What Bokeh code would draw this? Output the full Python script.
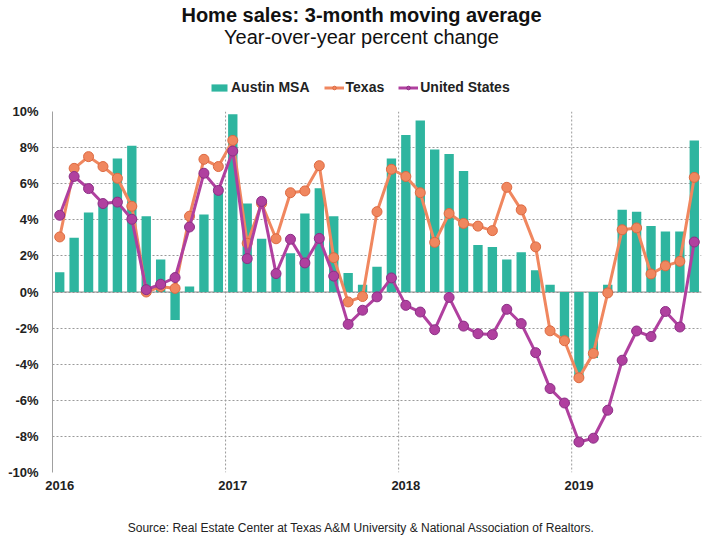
from bokeh.plotting import figure
from bokeh.layouts import column
from bokeh.models import (Legend, LegendItem, Label, Span, FixedTicker, Range1d,
                          ColumnDataSource)
from bokeh.embed import file_html
from bokeh.resources import INLINE

# ---- data (YoY % change, 3-month moving average, Jan 2016 .. Sep 2019) ----
year_labels = ["2016", "2017", "2018", "2019"]
year_start_index = [0, 12, 24, 36]

austin = [1.1, 3.0, 4.4, 4.95, 7.4, 8.1, 4.2, 1.8, -1.55, 0.3, 4.3, 5.85,
          9.85, 4.9, 2.95, 1.05, 2.15, 4.35, 5.75, 4.2, 1.05, 0.4, 1.4, 7.4,
          8.7, 9.5, 7.9, 7.65, 6.7, 2.6, 2.5, 1.8, 2.2, 1.2, 0.4, -2.85,
          -4.8, -3.65, 0.4, 4.55, 4.45, 3.65, 3.35, 3.35, 8.4]
texas = [3.05, 6.85, 7.5, 6.95, 6.3, 4.75, 0.0, 0.3, 0.2, 4.2, 7.35, 6.95,
         8.4, 2.7, 4.9, 2.95, 5.5, 5.6, 7.0, 1.9, -0.55, -0.25, 4.45, 6.8,
         6.4, 5.5, 2.75, 4.35, 3.8, 3.65, 3.4, 5.8, 4.55, 2.5, -2.15, -2.7,
         -4.75, -3.4, -0.05, 3.45, 3.55, 1.0, 1.45, 1.7, 6.35]
us = [4.25, 6.4, 5.73, 4.9, 4.98, 4.03, 0.13, 0.43, 0.8, 3.6, 6.58, 5.63,
      7.81, 1.85, 5.02, 1.02, 2.92, 1.61, 2.97, 0.88, -1.79, -1.01, -0.27, 0.78,
      -0.74, -1.11, -2.09, -0.3, -1.89, -2.31, -2.36, -0.96, -1.75, -3.36, -5.35, -6.15,
      -8.31, -8.1, -6.55, -3.78, -2.16, -2.47, -1.08, -1.94, 2.77]
y_ticks = [-10, -8, -6, -4, -2, 0, 2, 4, 6, 8, 10]

title_text = "Home sales: 3-month moving average"
subtitle_text = "Year-over-year percent change"
source_text = "Source: Real Estate Center at Texas A&M University & National Association of Realtors."

idx = list(range(len(austin)))
src = ColumnDataSource(dict(x=idx, austin=austin, texas=texas, us=us))

FONT = "Liberation Sans"
TEAL = "#2eb59f"
ORANGE = "#f0875f"
ORANGE_EDGE = "#dd6a42"
PURPLE = "#b0409f"
PURPLE_EDGE = "#8c2f86"
W = 720
LEFT, FRAME_W, FRAME_H = 52, 649, 361


def bare(height):
    # in a column the plot frames are aligned with the main chart's frame,
    # so map data x directly onto page pixels across that frame
    f = figure(width=W, height=height, output_backend="svg", toolbar_location=None,
               x_range=Range1d(LEFT, LEFT + FRAME_W), y_range=Range1d(0, height),
               x_axis_type=None, y_axis_type=None, min_border=0,
               min_border_left=LEFT, min_border_right=W - LEFT - FRAME_W,
               min_border_top=0, min_border_bottom=0)
    f.outline_line_color = None
    f.grid.visible = False
    return f


def draw_series(f, **kw):
    bars = f.vbar(x="x", top="austin", width=0.65, source=src, fill_color=TEAL,
                  line_color=None, **kw)
    tl = f.line(x="x", y="texas", source=src, line_color=ORANGE, line_width=3, **kw)
    ts = f.scatter(x="x", y="texas", source=src, size=10, fill_color=ORANGE,
                   line_color=ORANGE_EDGE, line_width=1, **kw)
    ul = f.line(x="x", y="us", source=src, line_color=PURPLE, line_width=3, **kw)
    us_ = f.scatter(x="x", y="us", source=src, size=10, fill_color=PURPLE,
                    line_color=PURPLE_EDGE, line_width=1, **kw)
    return bars, (tl, ts), (ul, us_)


# ---------------- header: titles + legend ----------------
HEAD_H = 100
head = bare(HEAD_H)
head.add_layout(Label(x=361, y=HEAD_H - 14, text=title_text, text_align="center",
                      text_baseline="middle", text_font=FONT, text_font_style="bold",
                      text_font_size="20px", text_color="#111111"))
head.add_layout(Label(x=361, y=HEAD_H - 36, text=subtitle_text, text_align="center",
                      text_baseline="middle", text_font=FONT, text_font_style="normal",
                      text_font_size="20px", text_color="#111111"))
# legend proxies: same series, mapped onto ranges that keep them out of view
head.extra_x_ranges = {"off": Range1d(1000, 2000)}
head.extra_y_ranges = {"off": Range1d(1000, 2000)}
lg_bar, lg_tx, lg_us = draw_series(head, x_range_name="off", y_range_name="off")
legend = Legend(items=[LegendItem(label="Austin MSA", renderers=[lg_bar]),
                       LegendItem(label="Texas", renderers=list(lg_tx)),
                       LegendItem(label="United States", renderers=list(lg_us))],
                orientation="horizontal", location=(209 - LEFT, 5),
                label_text_font=FONT, label_text_font_style="bold",
                label_text_font_size="14px", label_text_color="#222222",
                glyph_width=20, glyph_height=9, label_height=16, label_standoff=2,
                spacing=14, padding=0, margin=0, border_line_color=None,
                background_fill_alpha=0)
head.add_layout(legend, "center")

# ---------------- main chart ----------------
MAIN_H = 400
p = figure(width=W, height=MAIN_H, output_backend="svg", toolbar_location=None,
           x_range=Range1d(-0.5, len(austin) - 0.5),
           y_range=Range1d(y_ticks[0], y_ticks[-1]),
           min_border_left=LEFT, min_border_right=W - LEFT - FRAME_W, min_border_top=11,
           min_border_bottom=MAIN_H - 11 - FRAME_H)
p.outline_line_color = None

p.xgrid.visible = False
p.ygrid.ticker = FixedTicker(ticks=y_ticks)
p.ygrid.grid_line_color = "#9a9a9a"
p.ygrid.grid_line_dash = "2 2"
p.ygrid.grid_line_width = 1

for i in year_start_index[1:]:
    p.add_layout(Span(location=i - 0.5, dimension="height", line_color="#9a9a9a",
                      line_dash="2 2", line_width=1, level="underlay"))
p.add_layout(Span(location=0, dimension="width", line_color="#8a8a8a",
                  line_width=1, level="underlay"))

p.yaxis.ticker = FixedTicker(ticks=y_ticks)
p.yaxis.major_label_overrides = {t: f"{t}%" for t in y_ticks}
p.yaxis.axis_line_color = "#a0a0a0"
p.yaxis.major_tick_out = 0
p.yaxis.major_tick_in = 0
p.yaxis.minor_tick_line_color = None
p.yaxis.major_label_standoff = 14
p.xaxis.ticker = FixedTicker(ticks=year_start_index)
p.xaxis.major_label_overrides = {i: y for i, y in zip(year_start_index, year_labels)}
p.xaxis.axis_line_color = None
p.xaxis.major_tick_out = 0
p.xaxis.major_tick_in = 0
p.xaxis.minor_tick_line_color = None
p.xaxis.major_label_standoff = 8
for ax in (p.xaxis, p.yaxis):
    ax.major_label_text_font = FONT
    ax.major_label_text_font_style = "bold"
    ax.major_label_text_font_size = "13px"
    ax.major_label_text_color = "#222222"

draw_series(p)

# ---------------- footer: source ----------------
FOOT_H = 540 - HEAD_H - MAIN_H
foot = bare(FOOT_H)
foot.add_layout(Label(x=361, y=FOOT_H - 27, text=source_text, text_align="center",
                      text_baseline="middle", text_font=FONT, text_font_style="normal",
                      text_font_size="12px", text_color="#222222"))

layout = column(head, p, foot, spacing=0)
open("out.html", "w").write(file_html(layout, INLINE))
